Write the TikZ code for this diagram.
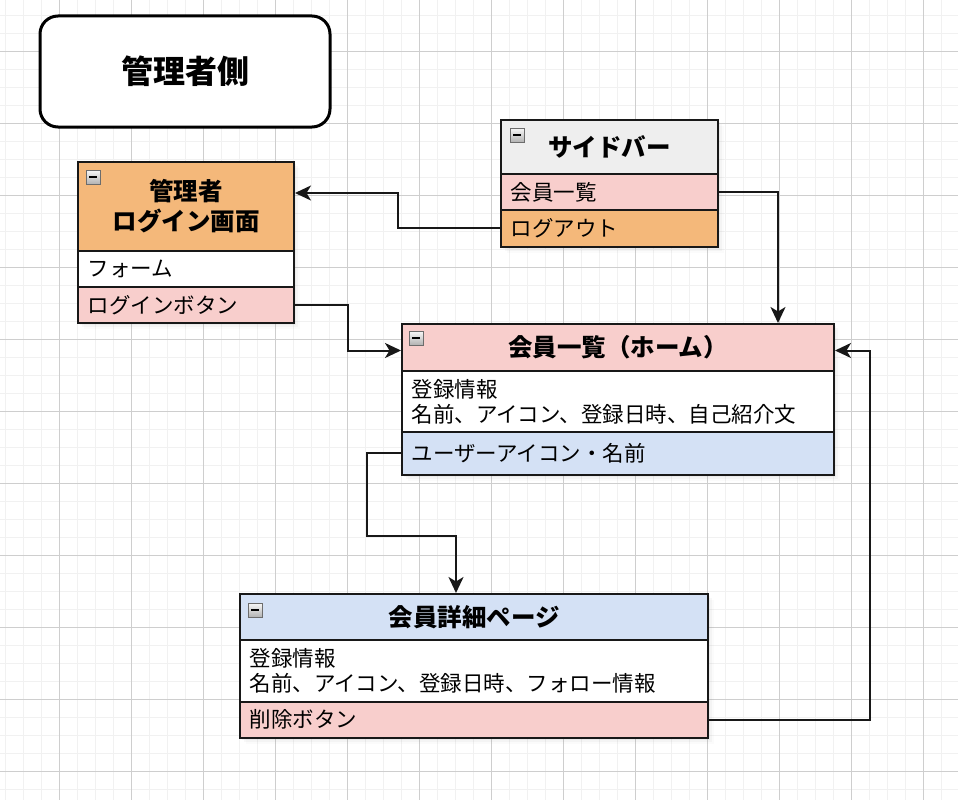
\documentclass[tikz,border=0pt]{standalone}
\usepackage{fontspec}
\setmainfont{Noto Sans CJK JP}
\usetikzlibrary{arrows.meta,shadows}

\definecolor{hdrorange}{RGB}{244,184,122}
\definecolor{rowpink}{RGB}{248,206,204}
\definecolor{rowblue}{RGB}{212,225,245}
\definecolor{hdrgray}{RGB}{238,238,238}
\definecolor{edgeline}{RGB}{24,24,24}
\definecolor{gridminor}{RGB}{241,241,241}
\definecolor{gridmajor}{RGB}{206,206,206}

\tikzset{
  boxpart/.style={draw=edgeline, line width=2pt, anchor=north west,
    outer sep=0pt, inner sep=0pt},
  softshadow/.style={
    drop shadow={opacity=0.07, shadow xshift=2pt, shadow yshift=-2pt},
    drop shadow={opacity=0.05, shadow xshift=4pt, shadow yshift=-4pt},
    drop shadow={opacity=0.03, shadow xshift=6pt, shadow yshift=-6pt}},
  header/.style={boxpart, softshadow, align=center,
    font=\bfseries\fontsize{24.5}{30}\selectfont},
  field/.style={boxpart, softshadow, align=left, inner xsep=9.5pt,
    font=\fontsize{21.5}{25}\selectfont},
  titlebox/.style={draw=black, line width=3pt, rounded corners=18pt,
    fill=white, minimum width=290pt, minimum height=111pt,
    font=\bfseries\fontsize{32}{36}\selectfont},
  conn/.style={draw=edgeline, line width=2pt, shorten >=1pt,
    -{Stealth[length=16pt,width=15pt,inset=4.5pt]}},
  minus icon/.pic={
    \draw[draw=gray!85!black, line width=0.8pt,
      top color=white!94!gray, bottom color=gray!60] (0,0) rectangle (14,14);
    \fill[black] (3.3,6) rectangle (10.7,8.4);
  }
}

\begin{document}
\begin{tikzpicture}[x=1pt,y=-1pt]
  \useasboundingbox (0,0) rectangle (958,800);
  \fill[white] (0,0) rectangle (958,800);

  % background grid
  \foreach \x in {5.3,23.3,...,958}
    \draw[gridminor, line width=1.5pt] (\x,0) -- (\x,800);
  \foreach \y in {15.3,33.3,...,800}
    \draw[gridminor, line width=1.5pt] (0,\y) -- (958,\y);
  \foreach \x in {59.3,131.3,...,958}
    \draw[gridmajor, line width=1pt] (\x,0) -- (\x,800);
  \foreach \y in {51.3,123.3,...,800}
    \draw[gridmajor, line width=1pt] (0,\y) -- (958,\y);

  % title
  \node[titlebox] (title) at (185,71.5) {管理者側};

  % login screen
  \node[header, fill=hdrorange, minimum width=216pt, minimum height=89pt]
    (login) at (78,162) {管理者\\ログイン画面};
  \node[field, fill=white, text width=197pt, minimum height=36pt]
    (loginform) at (login.south west) {フォーム};
  \node[field, fill=rowpink, text width=197pt, minimum height=36pt]
    (loginbtn) at (loginform.south west) {ログインボタン};

  % sidebar
  \node[header, fill=hdrgray, minimum width=217pt, minimum height=54pt]
    (side) at (501,120) {サイドバー};
  \node[field, fill=rowpink, text width=198pt, minimum height=36pt]
    (sidelist) at (side.south west) {会員一覧};
  \node[field, fill=hdrorange, text width=198pt, minimum height=36.5pt]
    (sidelogout) at (sidelist.south west) {ログアウト};

  % member list (home)
  \node[header, fill=rowpink, minimum width=432pt, minimum height=47pt]
    (home) at (402,324) {会員一覧（ホーム）};
  \node[field, fill=white, text width=413pt, minimum height=61pt]
    (homeinfo) at (home.south west) {登録情報\\名前、アイコン、登録日時、自己紹介文};
  \node[field, fill=rowblue, text width=413pt, minimum height=42.5pt]
    (homeuser) at (homeinfo.south west) {ユーザーアイコン・名前};

  % member detail
  \node[header, fill=rowblue, minimum width=468pt, minimum height=46pt]
    (detail) at (240,594) {会員詳細ページ};
  \node[field, fill=white, text width=449pt, minimum height=62pt]
    (detailinfo) at (detail.south west) {登録情報\\名前、アイコン、登録日時、フォロー情報};
  \node[field, fill=rowpink, text width=449pt, minimum height=35.5pt]
    (detaildel) at (detailinfo.south west) {削除ボタン};

  % collapse icons
  \pic at ([xshift=8pt,yshift=-8pt]login.north west) {minus icon};
  \pic at ([xshift=9pt,yshift=-8pt]side.north west) {minus icon};
  \pic at ([xshift=7pt,yshift=-7pt]home.north west) {minus icon};
  \pic at ([xshift=8pt,yshift=-9pt]detail.north west) {minus icon};

  % connectors
  \draw[conn] (sidelogout.west) -- ++(-103,0) |- ([yshift=13.5pt]login.east);
  \draw[conn] (sidelist.east) -| ([xshift=160pt]home.north);
  \draw[conn] (loginbtn.east) -- ++(54,0) |- ([yshift=-3pt]home.west);
  \draw[conn] (homeuser.west) -- ++(-35,0) -- ++(0,83) -| ([xshift=-18pt]detail.north);
  \draw[conn] (detaildel.east) -- ++(162,0) |- ([yshift=-3pt]home.east);
\end{tikzpicture}
\end{document}
